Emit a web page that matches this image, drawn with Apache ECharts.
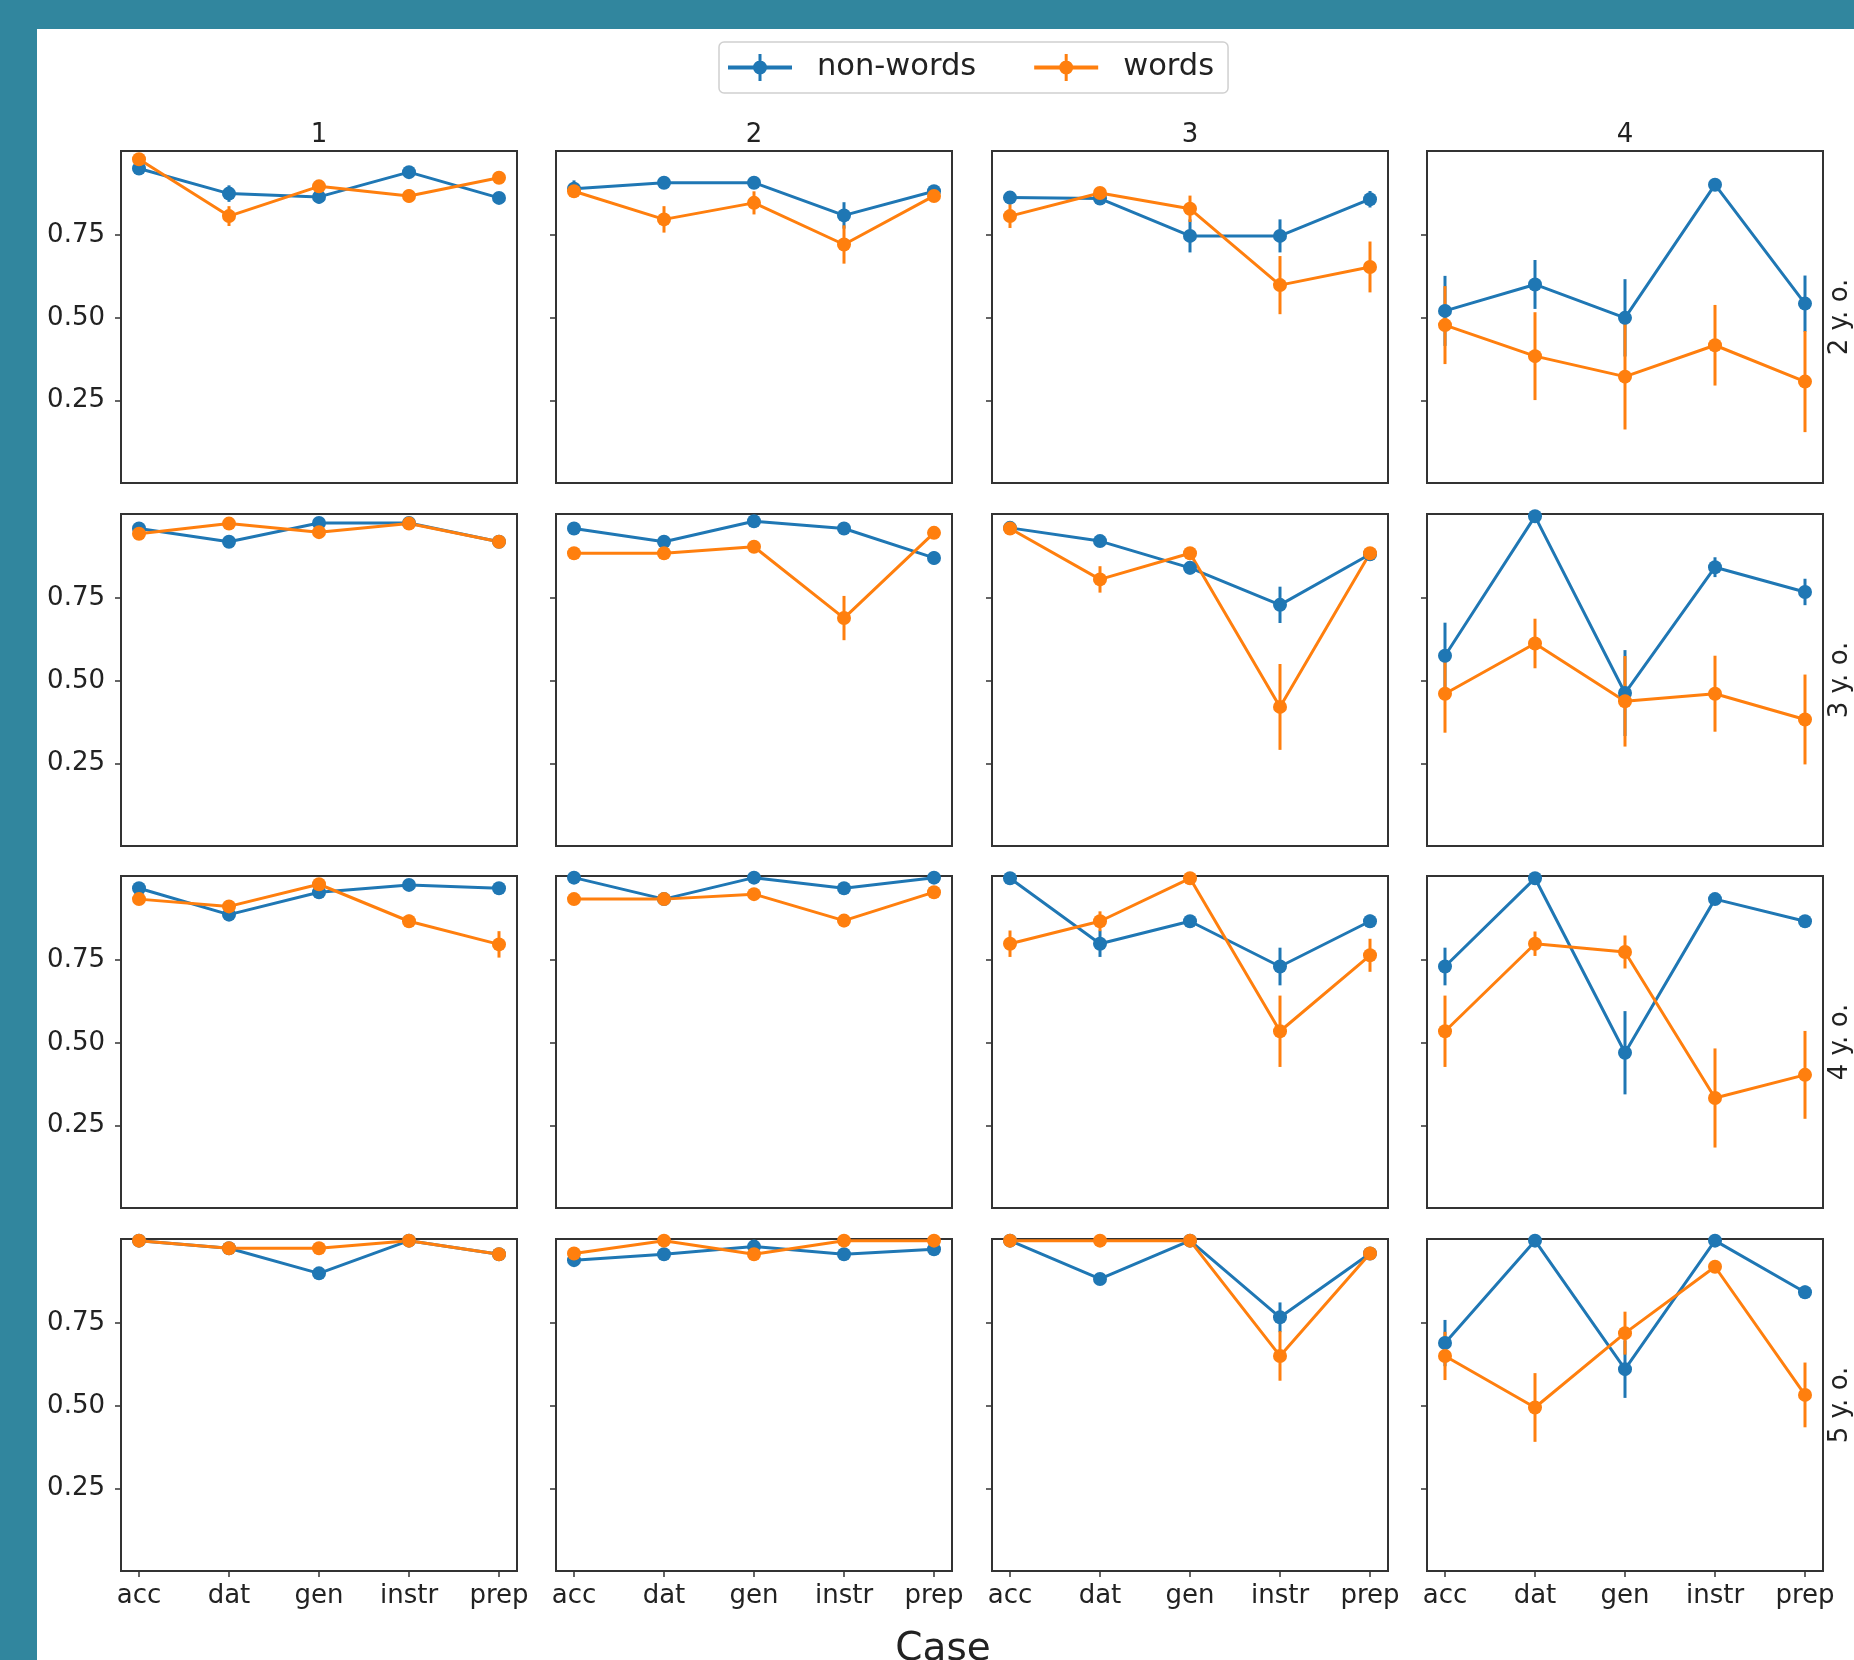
<!DOCTYPE html>
<html>
<head>
<meta charset="utf-8">
<script src="https://cdn.jsdelivr.net/npm/echarts@6/dist/echarts.min.js"></script>
<style>
  html, body { margin: 0; padding: 0; background: #fff; }
  #main { width: 1854px; height: 1660px; }
</style>
</head>
<body>
<div id="main"></div>
<script>
// categories and facets
var cases = ['acc', 'dat', 'gen', 'instr', 'prep'];
var colTitles = ['1', '2', '3', '4'];
var rowTitles = ['2 y. o.', '3 y. o.', '4 y. o.', '5 y. o.'];
var yTicks = [0.25, 0.5, 0.75];

// mean proportion per facet column (1..4), one row per age
var nonWords2 = [
    [0.952, 0.876, 0.866, 0.941, 0.863],
    [0.891, 0.909, 0.909, 0.810, 0.883],
    [0.864, 0.861, 0.748, 0.748, 0.859],
    [0.521, 0.601, 0.500, 0.903, 0.543]
];
var nonWordsErr2 = [
    [0.012, 0.025, 0.02, 0.012, 0.015],
    [0.025, 0.01, 0.01, 0.04, 0.015],
    [0.02, 0.015, 0.05, 0.05, 0.025],
    [0.106, 0.074, 0.117, 0.012, 0.085]
];
var words2 = [
    [0.980, 0.808, 0.898, 0.869, 0.924],
    [0.883, 0.798, 0.848, 0.722, 0.869],
    [0.808, 0.878, 0.830, 0.599, 0.654],
    [0.478, 0.384, 0.322, 0.417, 0.307]
];
var wordsErr2 = [
    [0.015, 0.03, 0.015, 0.02, 0.012],
    [0.012, 0.04, 0.035, 0.058, 0.015],
    [0.036, 0.012, 0.04, 0.088, 0.077],
    [0.118, 0.133, 0.16, 0.122, 0.153]
];

var nonWords3 = [
    [0.961, 0.921, 0.978, 0.978, 0.921],
    [0.961, 0.921, 0.983, 0.961, 0.872],
    [0.963, 0.923, 0.842, 0.730, 0.883],
    [0.576, 0.998, 0.463, 0.844, 0.769]
];
var nonWordsErr3 = [
    [0.01, 0.01, 0.01, 0.01, 0.01],
    [0.01, 0.01, 0.012, 0.01, 0.02],
    [0.01, 0.012, 0.02, 0.055, 0.015],
    [0.1, 0.01, 0.13, 0.03, 0.04]
];
var words3 = [
    [0.945, 0.976, 0.950, 0.976, 0.921],
    [0.886, 0.886, 0.906, 0.690, 0.948],
    [0.961, 0.807, 0.886, 0.421, 0.886],
    [0.461, 0.613, 0.438, 0.461, 0.383]
];
var wordsErr3 = [
    [0.012, 0.01, 0.01, 0.01, 0.01],
    [0.015, 0.01, 0.01, 0.067, 0.012],
    [0.01, 0.04, 0.015, 0.13, 0.015],
    [0.118, 0.075, 0.137, 0.115, 0.136]
];

var nonWords4 = [
    [0.968, 0.888, 0.956, 0.978, 0.968],
    [1.0, 0.935, 1.0, 0.968, 1.0],
    [0.998, 0.800, 0.868, 0.731, 0.868],
    [0.731, 0.998, 0.470, 0.935, 0.868]
];
var nonWordsErr4 = [
    [0.012, 0.012, 0.015, 0.012, 0.012],
    [0.012, 0.01, 0.01, 0.012, 0.01],
    [0.01, 0.04, 0.015, 0.057, 0.02],
    [0.057, 0.01, 0.126, 0.012, 0.015]
];
var words4 = [
    [0.935, 0.913, 0.980, 0.868, 0.798],
    [0.935, 0.935, 0.950, 0.870, 0.956],
    [0.800, 0.868, 0.998, 0.535, 0.765],
    [0.535, 0.800, 0.775, 0.333, 0.403]
];
var wordsErr4 = [
    [0.012, 0.012, 0.015, 0.02, 0.04],
    [0.012, 0.01, 0.012, 0.02, 0.012],
    [0.04, 0.03, 0.01, 0.108, 0.05],
    [0.108, 0.037, 0.05, 0.15, 0.133]
];

var nonWords5 = [
    [1.0, 0.977, 0.901, 1.0, 0.959],
    [0.941, 0.959, 0.982, 0.959, 0.974],
    [1.0, 0.884, 1.0, 0.768, 0.961],
    [0.690, 1.0, 0.611, 1.0, 0.844]
];
var nonWordsErr5 = [
    [0, 0.01, 0.015, 0, 0.01],
    [0.012, 0.012, 0.012, 0.012, 0.012],
    [0, 0.015, 0, 0.045, 0.01],
    [0.07, 0, 0.087, 0, 0.02]
];
var words5 = [
    [1.0, 0.977, 0.977, 1.0, 0.959],
    [0.961, 1.0, 0.959, 1.0, 1.0],
    [1.0, 1.0, 1.0, 0.651, 0.961],
    [0.651, 0.495, 0.720, 0.921, 0.533]
];
var wordsErr5 = [
    [0, 0.012, 0.012, 0, 0.012],
    [0.015, 0, 0.012, 0, 0],
    [0, 0, 0, 0.075, 0.01],
    [0.073, 0.104, 0.065, 0.012, 0.098]
];

var nonWordsRows = [nonWords2, nonWords3, nonWords4, nonWords5];
var nonWordsErrRows = [nonWordsErr2, nonWordsErr3, nonWordsErr4, nonWordsErr5];
var wordsRows = [words2, words3, words4, words5];
var wordsErrRows = [wordsErr2, wordsErr3, wordsErr4, wordsErr5];

var blue = '#1f77b4';
var orange = '#ff7f0e';
var font = 'DejaVu Sans';
var textColor = '#222';

// layout of the facet grid
var colLeft = [121, 556, 992, 1427];
var rowTop = [151, 514, 876, 1239];
var boxW = 396, boxH = 332;

var grids = [], xAxes = [], yAxes = [], series = [];

function errorBars(name, color, idx, means, errs) {
    return {
        name: name,
        type: 'custom',
        coordinateSystem: 'cartesian2d',
        xAxisIndex: idx,
        yAxisIndex: idx,
        clip: true,
        silent: true,
        encode: { x: 0, y: [1, 2] },
        data: means.map(function (m, i) { return [i, m - errs[i], m + errs[i]]; }),
        renderItem: function (params, api) {
            var p1 = api.coord([api.value(0), api.value(1)]);
            var p2 = api.coord([api.value(0), api.value(2)]);
            return {
                type: 'line',
                shape: { x1: p1[0], y1: p1[1], x2: p2[0], y2: p2[1] },
                style: { stroke: color, lineWidth: 3 }
            };
        }
    };
}

function pointLine(name, color, idx, means) {
    return {
        name: name,
        type: 'line',
        xAxisIndex: idx,
        yAxisIndex: idx,
        animation: false,
        symbol: 'circle',
        symbolSize: 14,
        color: color,
        lineStyle: { width: 3, color: color },
        itemStyle: { color: color },
        data: means.map(function (m, i) { return [i, m]; })
    };
}

for (var r = 0; r < 4; r++) {
    for (var c = 0; c < 4; c++) {
        var idx = r * 4 + c;
        grids.push({
            left: colLeft[c], top: rowTop[r], width: boxW, height: boxH,
            show: true, borderColor: '#333', borderWidth: 2, backgroundColor: '#fff'
        });
        xAxes.push({
            type: 'value', gridIndex: idx, min: -0.2, max: 4.2,
            axisLine: { show: false, onZero: false },
            splitLine: { show: false },
            axisTick: { show: r === 3, length: 6, customValues: [0, 1, 2, 3, 4], lineStyle: { color: '#333', width: 1.5 } },
            axisLabel: {
                show: r === 3, customValues: [0, 1, 2, 3, 4], margin: 12,
                fontSize: 26, fontFamily: font, color: textColor,
                formatter: function (v) { return cases[Math.round(v)]; }
            }
        });
        yAxes.push({
            type: 'value', gridIndex: idx, min: 0, max: 1.005,
            axisLine: { show: false, onZero: false },
            splitLine: { show: false },
            axisTick: { show: true, length: 6, customValues: yTicks, lineStyle: { color: '#333', width: 1.5 } },
            axisLabel: {
                show: c === 0, customValues: yTicks, margin: 16,
                fontSize: 26, fontFamily: font, color: textColor,
                formatter: function (v) { return v.toFixed(2); }
            }
        });
        series.push(errorBars('non-words err', blue, idx, nonWordsRows[r][c], nonWordsErrRows[r][c]));
        series.push(pointLine('non-words', blue, idx, nonWordsRows[r][c]));
        series.push(errorBars('words err', orange, idx, wordsRows[r][c], wordsErrRows[r][c]));
        series.push(pointLine('words', orange, idx, wordsRows[r][c]));
    }
}

var graphics = [
    { type: 'rect', shape: { x: 0, y: 0, width: 1854, height: 29 }, style: { fill: '#31869e' }, silent: true },
    { type: 'rect', shape: { x: 0, y: 0, width: 37, height: 1660 }, style: { fill: '#31869e' }, silent: true }
];
colTitles.forEach(function (t, c) {
    graphics.push({
        type: 'text', x: colLeft[c] + boxW / 2, y: 135,
        style: { text: t, fontSize: 26, fontFamily: font, fill: textColor, align: 'center', verticalAlign: 'middle' }
    });
});
rowTitles.forEach(function (t, r) {
    graphics.push({
        type: 'text', x: 1840, y: rowTop[r] + boxH / 2, rotation: Math.PI / 2,
        style: { text: t, fontSize: 26, fontFamily: font, fill: textColor, align: 'center', verticalAlign: 'middle' }
    });
});
graphics.push({
    type: 'text', x: 943, y: 1650,
    style: { text: 'Case', fontSize: 39, fontFamily: font, fill: textColor, align: 'center', verticalAlign: 'middle' }
});

var legendIcon = 'path://M0,11.5 L64,11.5 L64,15.5 L0,15.5 Z M30.5,0 L33.5,0 L33.5,27 L30.5,27 Z ' +
    'M25,13.5 A7,7 0 1 1 39,13.5 A7,7 0 1 1 25,13.5 Z';

var option = {
    backgroundColor: '#fff',
    animation: false,
    textStyle: { fontFamily: font },
    legend: {
        left: 719,
        top: 42,
        orient: 'horizontal',
        padding: [10, 14, 10, 9],
        itemGap: 58,
        itemWidth: 64,
        itemHeight: 27,
        borderColor: '#d0d0d0',
        borderWidth: 1.5,
        borderRadius: 5,
        backgroundColor: '#fff',
        selectedMode: false,
        textStyle: { fontSize: 30.5, color: textColor, fontFamily: font, padding: [0, 0, 0, 20] },
        data: [
            { name: 'non-words', icon: legendIcon },
            { name: 'words', icon: legendIcon }
        ]
    },
    grid: grids,
    xAxis: xAxes,
    yAxis: yAxes,
    series: series,
    graphic: graphics
};

echarts.init(document.getElementById('main')).setOption(option);
</script>
</body>
</html>
